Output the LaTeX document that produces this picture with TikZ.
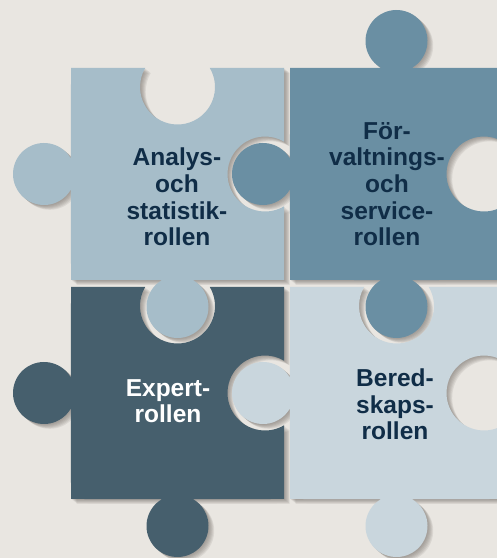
\documentclass[tikz,border=0pt]{standalone}
\usepackage{fontspec}
\setmainfont{Liberation Sans}
\usetikzlibrary{calc}
\definecolor{bgc}{HTML}{E9E6E1}
\definecolor{ctl}{HTML}{A6BDC9}
\definecolor{ctr}{HTML}{6A8FA3}
\definecolor{cbl}{HTML}{465F6D}
\definecolor{cbr}{HTML}{C9D6DD}
\definecolor{txt}{HTML}{102D47}
\definecolor{shd}{HTML}{6E6862}
% side macros: #1,#2 midpoint of side, #3 outward normal angle
\def\ptab#1#2#3{-- ($(#1,#2)+({#3}:27)+({#3-150.57}:31)$) arc[start angle={#3-150.57}, end angle={#3+150.57}, radius=31]}
\def\phole#1#2#3{-- ($(#1,#2)+({#3+180}:19)+({#3-59.55}:37.5)$) arc[start angle={#3-59.55}, end angle={#3-300.45}, radius=37.5]}
% pieces
\def\pTL{(71,278) \ptab{177.5}{278}{270} -- (284,278) \phole{284}{384}{0} -- (284,490) \phole{177.5}{490}{90} -- (71,490) \ptab{71}{384}{180} -- cycle}
\def\pTR{(290,278) \ptab{396.5}{278}{270} -- (503,278) \phole{503}{384}{0} -- (503,490) \ptab{396.5}{490}{90} -- (290,490) \ptab{290}{384}{180} -- cycle}
\def\pBL{(71,59) \ptab{177.5}{59}{270} -- (284,59) \phole{284}{165}{0} -- (284,271) \phole{177.5}{271}{90} -- (71,271) \ptab{71}{165}{180} -- cycle}
\def\pBR{(290,59) \ptab{396.5}{59}{270} -- (503,59) \phole{503}{165}{0} -- (503,271) \phole{396.5}{271}{90} -- (290,271) \ptab{290}{165}{180} -- cycle}
\tikzset{
  lbl/.style={font=\bfseries\fontsize{24.5}{26.7}\selectfont, align=center, inner sep=0pt, anchor=base, text=txt},
  shadowlayer/.style={fill=shd, fill opacity=0.12, draw=none}
}
\begin{document}
\begin{tikzpicture}[x=1pt,y=1pt]
\useasboundingbox (0,0) rectangle (497,558);
\fill[bgc] (0,0) rectangle (497,558);
\clip (0,0) rectangle (497,558);
% soft shadows
\foreach \s in {1,2,3,4,5,6}{
  \fill[shadowlayer, shift={(\s*0.95,-\s*0.8)}] \pTL;
  \fill[shadowlayer, shift={(\s*0.95,-\s*0.8)}] \pTR;
  \fill[shadowlayer, shift={(\s*0.95,-\s*0.8)}] \pBL;
  \fill[shadowlayer, shift={(\s*0.95,-\s*0.8)}] \pBR;
}
% pieces
\fill[ctl] \pTL;
\fill[ctr] \pTR;
\fill[cbl] \pBL;
\fill[cbr] \pBR;
% labels (base anchor = baseline of last line)
\node[lbl] (tl) at (177,312) {Analys-\\och\\statistik-\\rollen};
\node[lbl] (tr) at (387,312) {För-\\valtnings-\\och\\service-\\rollen};
\node[lbl, text=white] (bl) at (168,135) {Expert-\\rollen};
\node[lbl] (br) at (395,118) {Bered-\\skaps-\\rollen};
\end{tikzpicture}
\end{document}
